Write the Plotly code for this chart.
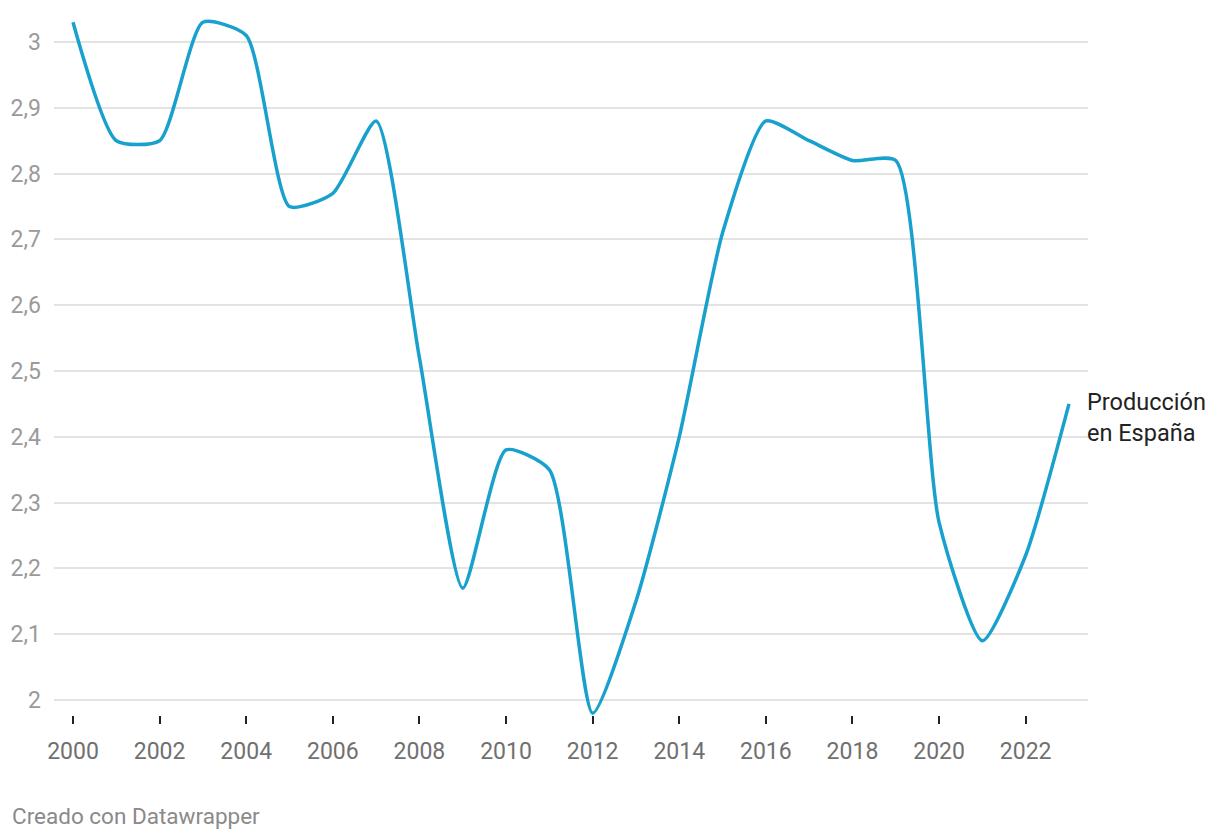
import plotly.graph_objects as go

years = list(range(2000, 2024))
values = [3.03, 2.85, 2.85, 3.03, 3.01, 2.75, 2.77, 2.88, 2.52, 2.17, 2.38, 2.35,
          1.98, 2.15, 2.40, 2.71, 2.88, 2.85, 2.82, 2.82, 2.27, 2.09, 2.22, 2.45]
series_label = "Producción<br>en España"
y_ticks = [2.0, 2.1, 2.2, 2.3, 2.4, 2.5, 2.6, 2.7, 2.8, 2.9, 3.0]
y_ticktext = ["2", "2,1", "2,2", "2,3", "2,4", "2,5", "2,6", "2,7", "2,8", "2,9", "3"]
x_ticks = list(range(2000, 2023, 2))

OFF = 8  # page body margin
W, H = 1220 - OFF, 840 - OFF
top, bottom_px = 10, 715          # page pixels
left, right_px = 54, 1088         # page pixels
px_per_unit = 658.0
px_per_year = (1069 - 73) / 23.0

y_top = 3 + (42 - top) / px_per_unit
y_bot = 2 - (bottom_px - 700) / px_per_unit
x_left = 2000 - (73 - left) / px_per_year
x_right = 2023 + (right_px - 1069) / px_per_year

m_l, m_t = left - OFF, top - OFF
m_r, m_b = W - (right_px - OFF), H - (bottom_px - OFF)
plot_w = right_px - left
plot_h = bottom_px - top

fig = go.Figure()
fig.add_trace(go.Scatter(
    x=years, y=values, mode="lines",
    line=dict(color="#18a1cd", width=3.5, shape="spline", smoothing=0.6),
    hoverinfo="skip", showlegend=False, cliponaxis=False,
))

fig.add_annotation(
    x=years[-1], y=values[-1], text=series_label, showarrow=False,
    xanchor="left", yanchor="middle", align="left", xshift=16, yshift=-14,
    font=dict(family="Roboto", size=23.5, color="#222222"),
)
fig.add_annotation(
    x=(10 - left) / plot_w, y=-(816 - bottom_px) / plot_h,
    xref="paper", yref="paper", text="Creado con Datawrapper",
    showarrow=False, xanchor="left", yanchor="middle",
    font=dict(family="Roboto", size=22.5, color="#8a8a8a"),
)

fig.update_layout(
    width=W, height=H,
    margin=dict(l=m_l, r=m_r, t=m_t, b=m_b, pad=0),
    paper_bgcolor="white", plot_bgcolor="white",
    font=dict(family="Roboto", size=23, color="#999999"),
    xaxis=dict(
        range=[x_left, x_right], tickvals=x_ticks, ticktext=[str(t) for t in x_ticks],
        showgrid=False, zeroline=False, showline=False,
        ticks="outside", ticklen=8, tickwidth=2, tickcolor="#222222",
        tickfont=dict(family="Roboto", size=23, color="#707070"),
        ticklabelstandoff=7,
    ),
    yaxis=dict(
        range=[y_bot, y_top], tickvals=y_ticks, ticktext=y_ticktext,
        showgrid=True, gridcolor="#e3e3e3", gridwidth=1.5,
        zeroline=False, showline=False, ticks="",
        tickfont=dict(family="Roboto", size=23, color="#9a9a9a"),
        ticklabelstandoff=12,
    ),
)

fig.write_html("out.html")
